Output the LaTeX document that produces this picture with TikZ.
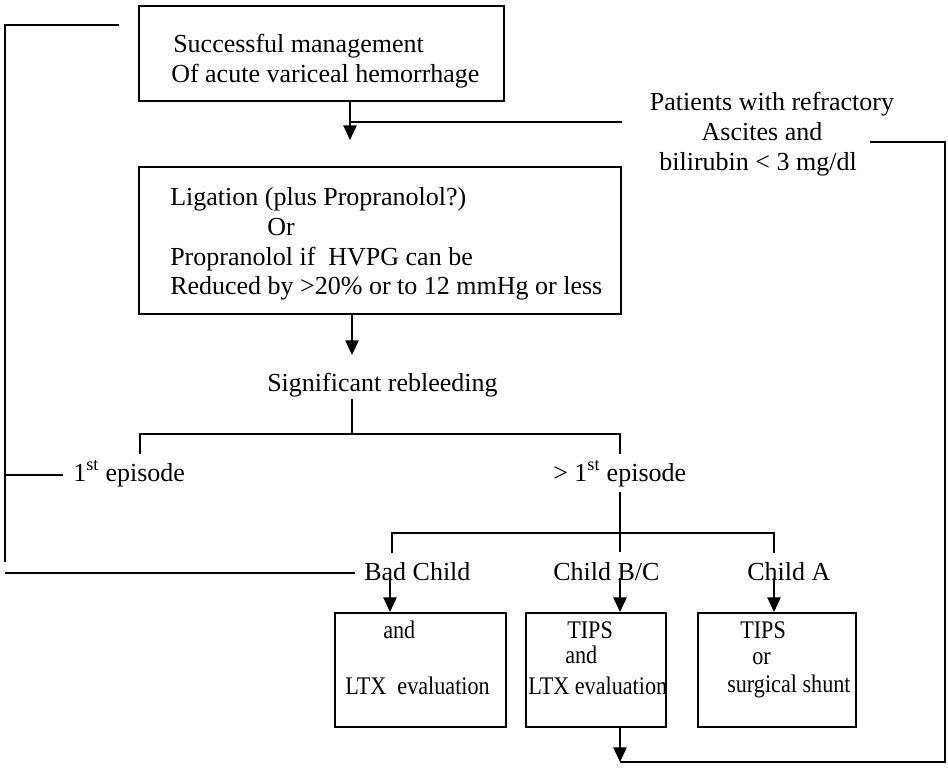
\documentclass[tikz,border=0pt]{standalone}
\usepackage{fontspec}
\setmainfont{Liberation Serif}
\newfontfamily\narrowserif[FakeStretch=0.875]{Liberation Serif}
\usetikzlibrary{arrows.meta}
\begin{document}
\begin{tikzpicture}[x=0.75pt,y=-0.75pt,
  box/.style={draw,line width=1.2pt,inner sep=0pt,anchor=north west},
  txt/.style={font=\fontsize{19.5}{23}\selectfont,inner sep=0pt,anchor=base west},
  ctxt/.style={font=\fontsize{19.5}{23}\selectfont,inner sep=0pt,anchor=base},
  small/.style={font=\narrowserif\fontsize{19}{22}\selectfont,inner sep=0pt,anchor=base west},
  ln/.style={line width=1.1pt},
  arr/.style={ln,-{Triangle[width=10pt,length=11pt]}}]
\useasboundingbox (0,0) rectangle (948,767);
% boxes
\node[box,minimum width=273.75pt,minimum height=71.25pt] (b1) at (138,5) {};
\node[box,minimum width=361.5pt,minimum height=110.25pt] (b2) at (138,166) {};
\node[box,minimum width=128.25pt,minimum height=85.5pt] (b3a) at (334,612) {};
\node[box,minimum width=105pt,minimum height=85.5pt] (b3b) at (525,612) {};
\node[box,minimum width=118.5pt,minimum height=85.5pt] (b3c) at (697,612) {};
% texts
\node[txt] (t1a) at (173,53) {Successful management};
\node[txt] (t1b) at (171,83) {Of acute variceal hemorrhage};
\node[ctxt] (p1) at (772,110) {Patients with refractory};
\node[ctxt] (p2) at (762,140) {Ascites and};
\node[ctxt] (p3) at (758,170) {bilirubin < 3 mg/dl};
\node[txt] (l1) at (170,205) {Ligation (plus Propranolol?)};
\node[txt] (l2) at (267,235) {Or};
\node[txt] (l3) at (170,265) {Propranolol if\ \ HVPG can be};
\node[txt] (l4) at (170,294) {Reduced by >20\% or to 12 mmHg or less};
\node[txt] (sig) at (267,391) {Significant rebleeding};
\node[txt] (ep1) at (73,481) {1\textsuperscript{st} episode};
\node[txt] (ep2) at (553,481) {> 1\textsuperscript{st} episode};
\node[txt] (bad) at (364,580) {Bad Child};
\node[txt] (cbc) at (553,580) {Child B/C};
\node[txt] (ca) at (747,580) {Child A};
\node[small] (a1) at (383,638) {and};
\node[small] (a2) at (345,694) {LTX\ \ evaluation};
\node[small] (b1t) at (567,638) {TIPS};
\node[small] (b2t) at (565,663) {and};
\node[small] (b3t) at (528,694) {LTX evaluation};
\node[small] (c1) at (740,638) {TIPS};
\node[small] (c2) at (752,664) {or};
\node[small] (c3) at (727,692) {surgical shunt};
% coordinates
\coordinate (tl) at (119,25);
\coordinate (lc) at (5,25);
\coordinate (lb) at (5,562);
\coordinate (lbb) at (5,573);
\coordinate (j1) at (350,122);
\coordinate (tip1) at (350,140);
\coordinate (tip2) at (352,355);
\coordinate (s1) at (352,399);
\coordinate (s2) at (352,434);
\coordinate (h1l) at (140,434);
\coordinate (h1r) at (620,434);
\coordinate (d1l) at (140,454);
\coordinate (d1r) at (620,454);
\coordinate (e1) at (620,492);
\coordinate (e2) at (620,552);
\coordinate (h2l) at (392,533);
\coordinate (h2r) at (774,533);
\coordinate (d2l) at (392,553);
\coordinate (d2r) at (774,553);
\coordinate (r1) at (390,578);
\coordinate (r2) at (620,578);
\coordinate (r3) at (774,578);
\coordinate (bt) at (620,762);
\coordinate (br) at (945,762);
\coordinate (tr) at (945,142);
\coordinate (pt) at (870,142);
\coordinate (ep1l) at (63,475);
\coordinate (badl) at (355,573);
% connectors
\draw[ln] (tl) -- (lc) -- (lb);
\draw[ln] (lc |- ep1l) -- (ep1l);
\draw[ln] (lbb) -- (badl);
\draw[arr] (b1.south -| j1) -- (tip1);
\draw[ln] (j1) -- (b2.north east |- j1);
\draw[arr] (b2.south -| tip2) -- (tip2);
\draw[ln] (s1) -- (s2);
\draw[ln] (d1l) -- (h1l) -- (h1r) -- (d1r);
\draw[ln] (e1) -- (e2);
\draw[ln] (d2l) -- (h2l) -- (h2r) -- (d2r);
\draw[arr] (r1) -- (b3a.north -| r1);
\draw[arr] (r2) -- (b3b.north -| r2);
\draw[arr] (r3) -- (b3c.north -| r3);
\draw[arr] (b3b.south -| bt) -- (bt);
\draw[ln] (bt) -- (br) -- (tr) -- (pt);
\end{tikzpicture}
\end{document}
